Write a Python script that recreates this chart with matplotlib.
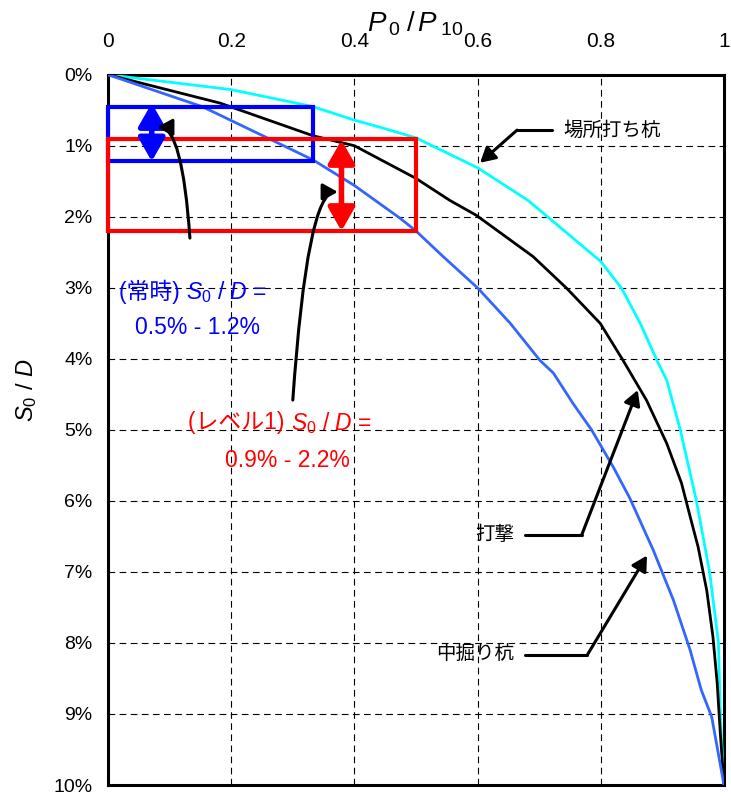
import numpy as np
import matplotlib
matplotlib.use("Agg")
import matplotlib.pyplot as plt
from matplotlib.patches import Rectangle
from matplotlib.ticker import FuncFormatter

plt.rcParams['font.family'] = ['Liberation Sans', 'Noto Sans CJK JP', 'DejaVu Sans']
plt.rcParams['mathtext.fontset'] = 'custom'
plt.rcParams['mathtext.rm'] = 'Liberation Sans'
plt.rcParams['mathtext.it'] = 'Liberation Sans:italic'

# 場所打ち杭 (cyan)
x_bashoi = [0, 0.2, 0.333, 0.4, 0.45, 0.5, 0.6, 0.682, 0.8, 0.834, 0.864, 0.891,
            0.907, 0.929, 0.955, 0.977, 0.991, 0.994, 1.0]
y_bashoi = [0, 0.21, 0.45, 0.64, 0.76, 0.89, 1.31, 1.77, 2.63, 3.01, 3.50, 4.02,
            4.30, 5.0, 5.99, 7.02, 8.0, 9.0, 10.0]

# 打撃 (black)
x_dageki = [0, 0.182, 0.333, 0.4, 0.5, 0.555, 0.598, 0.690, 0.745, 0.799, 0.836,
            0.874, 0.907, 0.931, 0.945, 0.958, 0.972, 0.982, 0.989, 0.994, 1.0]
y_dageki = [0, 0.40, 0.86, 1.0, 1.46, 1.77, 1.98, 2.56, 3.01, 3.50, 4.02,
            4.58, 5.19, 5.75, 6.22, 6.65, 7.26, 7.91, 8.57, 9.27, 10.0]

# 中掘り杭 (blue)
x_nakabori = [0, 0.153, 0.182, 0.333, 0.4, 0.474, 0.5, 0.544, 0.601, 0.653, 0.701,
              0.723, 0.755, 0.785, 0.820, 0.847, 0.885, 0.918, 0.945, 0.963, 0.980, 1.0]
y_nakabori = [0, 0.45, 0.57, 1.2, 1.56, 2.02, 2.2, 2.56, 3.01, 3.50, 4.02,
              4.20, 4.63, 5.0, 5.52, 5.96, 6.69, 7.40, 8.10, 8.66, 9.04, 10.0]

# ranges (S0/D %) and P0/P10 extent
jouji_range = [0.45, 1.22]
jouji_x = 0.333
level1_range = [0.9, 2.2]
level1_x = 0.5

x_ticks = [0, 0.2, 0.4, 0.6, 0.8, 1]
y_ticks = list(range(0, 11))

fig = plt.figure(figsize=(7.31, 8), dpi=100)
ax = fig.add_axes([108/731, 1-785/800, 616/731, 710.3/800])

ax.set_xlim(0, 1)
ax.set_ylim(10, 0)
ax.set_xticks(x_ticks)
ax.set_xticklabels(['0', '0.2', '0.4', '0.6', '0.8', '1'])
ax.set_yticks(y_ticks)
ax.yaxis.set_major_formatter(FuncFormatter(lambda v, p: '%d%%' % v))
ax.xaxis.tick_top()
ax.tick_params(axis='x', length=0, pad=17, labelsize=15)
ax.tick_params(axis='y', length=0, pad=11, labelsize=14)
for s in ax.spines.values():
    s.set_linewidth(2.2)

for gx in x_ticks[1:-1]:
    ax.axvline(gx, color='black', lw=0.8, dashes=(6, 4), zorder=1)
for gy in y_ticks[1:-1]:
    ax.axhline(gy, color='black', lw=0.8, dashes=(6, 4), zorder=1)

ax.plot(x_bashoi, y_bashoi, color='#00FFFF', lw=2, zorder=3)
ax.plot(x_dageki, y_dageki, color='black', lw=2, zorder=3)
ax.plot(x_nakabori, y_nakabori, color='#3366FF', lw=2, zorder=3)

# ranges
ax.add_patch(Rectangle((0, jouji_range[0]), jouji_x, jouji_range[1]-jouji_range[0],
                       fill=False, ec='#0000FF', lw=3, zorder=4, clip_on=False))
ax.add_patch(Rectangle((0, level1_range[0]), level1_x, level1_range[1]-level1_range[0],
                       fill=False, ec='#FF0000', lw=3, zorder=5, clip_on=False))

dbl = '<|-|>,head_length=0.7,head_width=0.4'
ax.annotate('', xy=(0.071, 0.40), xytext=(0.071, 1.22),
            arrowprops=dict(arrowstyle=dbl, color='#0000FF', lw=4, mutation_scale=20,
                            shrinkA=0, shrinkB=0), zorder=6)
ax.annotate('', xy=(0.379, 0.92), xytext=(0.379, 2.2),
            arrowprops=dict(arrowstyle=dbl, color='#FF0000', lw=4, mutation_scale=20,
                            shrinkA=0, shrinkB=0), zorder=6)

# curved pointers
sgl = '-|>,head_length=0.45,head_width=0.25'
ax.annotate('', xy=(0.08, 0.74), xytext=(0.133, 2.3),
            arrowprops=dict(arrowstyle=sgl, color='black', lw=2.2, mutation_scale=20,
                            shrinkA=0, shrinkB=0,
                            connectionstyle='angle3,angleA=94,angleB=0'), zorder=7)
ax.annotate('', xy=(0.373, 1.65), xytext=(0.300, 4.58),
            arrowprops=dict(arrowstyle=sgl, color='black', lw=2.2, mutation_scale=20,
                            shrinkA=0, shrinkB=0,
                            connectionstyle='angle3,angleA=86,angleB=0'), zorder=7)

# label pointers
def pointer(p0, p1, tip):
    ax.plot([p0[0], p1[0]], [p0[1], p1[1]], color='black', lw=2.2,
            solid_capstyle='round', zorder=7)
    ax.annotate('', xy=tip, xytext=p1,
                arrowprops=dict(arrowstyle=sgl, color='black', lw=2.2,
                                mutation_scale=20, shrinkA=0, shrinkB=0), zorder=7)

pointer((0.721, 0.78), (0.664, 0.78), (0.604, 1.24))
pointer((0.677, 6.48), (0.769, 6.48), (0.860, 4.44))
pointer((0.677, 8.17), (0.778, 8.17), (0.875, 6.77))

ax.text(0.74, 0.78, '場所打ち杭', fontsize=14, ha='left', va='center', zorder=8)
ax.text(0.660, 6.48, '打撃', fontsize=14, ha='right', va='center', zorder=8)
ax.text(0.660, 8.17, '中掘り杭', fontsize=14, ha='right', va='center', zorder=8)

# range labels: CJK part and math part drawn separately
ax.text(0.127, 3.06, '(常時) ', color='#0000FF', fontsize=16.5,
        ha='right', va='center', zorder=8)
ax.text(0.127, 3.06, r'$S_{\mathit{0}}$ / $D$ =', color='#0000FF', fontsize=16.5,
        ha='left', va='center', zorder=8)
ax.text(0.146, 3.56, '0.5% - 1.2%', color='#0000FF', fontsize=16.5,
        ha='center', va='center', zorder=8)
ax.text(0.297, 4.90, '(レベル1) ', color='#FF0000', fontsize=16.5,
        ha='right', va='center', zorder=8)
ax.text(0.297, 4.90, r'$S_{\mathit{0}}$ / $D$ =', color='#FF0000', fontsize=16.5,
        ha='left', va='center', zorder=8)
ax.text(0.292, 5.43, '0.9% - 2.2%', color='#FF0000', fontsize=16.5,
        ha='center', va='center', zorder=8)

fig.text(415/731, 1-24/800, r'$P_{\,\mathit{0}}\;/\,P_{\;\mathit{10}}$', fontsize=20,
         ha='center', va='center')
fig.text(27/731, 1-390/800, r'$S_{\mathrm{0}}$ / $D$', fontsize=17, rotation=90,
         ha='center', va='center')

fig.savefig('out.png', dpi=100)
